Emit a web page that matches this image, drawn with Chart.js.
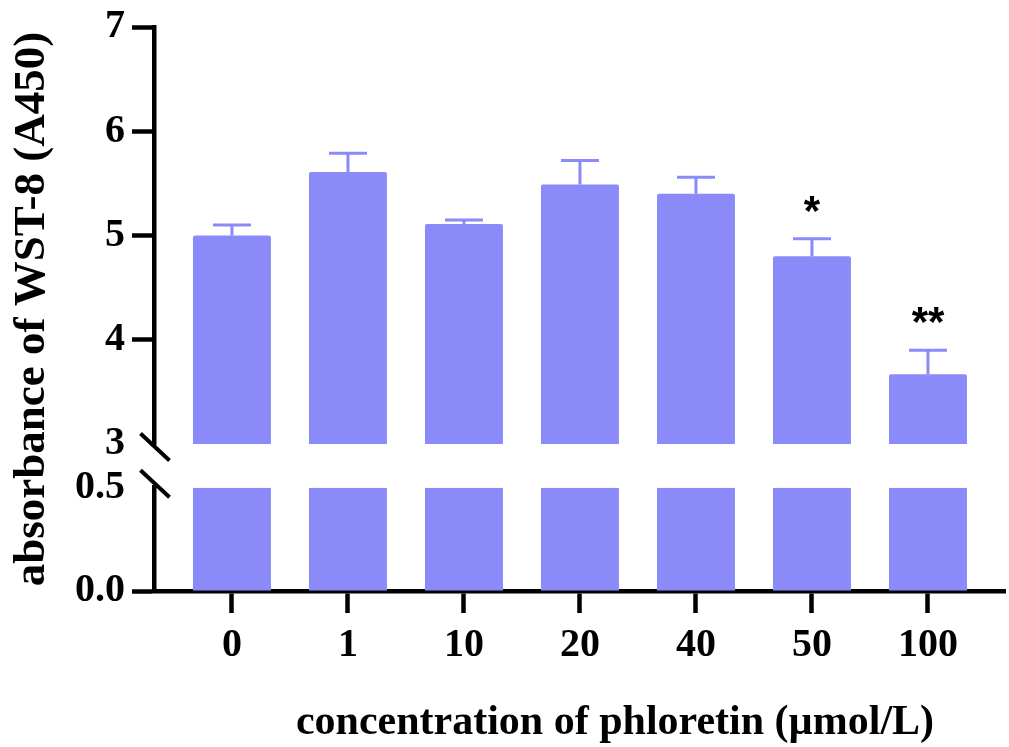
<!DOCTYPE html>
<html><head><meta charset="utf-8">
<script src="https://cdn.jsdelivr.net/npm/chart.js@4.4.1/dist/chart.umd.min.js"></script>
<style>html,body{margin:0;padding:0;background:#fff}#wrap{width:1009px;height:747px}</style>
</head><body><div id="wrap"><canvas id="c" width="1009" height="747"></canvas></div>
<script>
// ---- data ----
const categories = ['0', '1', '10', '20', '40', '50', '100'];
const values = [5.00, 5.61, 5.11, 5.49, 5.40, 4.80, 3.67];
const errors = [0.10, 0.18, 0.04, 0.23, 0.16, 0.17, 0.23];
const significance = ['', '', '', '', '', '*', '**'];
const upperTicks = [3, 4, 5, 6, 7];
const lowerTicks = [0, 0.5];
const xTitle = 'concentration of phloretin (\u00b5mol/L)';
const yTitle = 'absorbance of WST-8 (A450)';

// ---- style ----
const barColor = '#8a8af8';
const black = '#000';
const serif = "'Liberation Serif','Times New Roman',serif";
const axisW = 4.5;
const upperMin = upperTicks[0], upperMax = upperTicks[upperTicks.length - 1];
const lowerMin = lowerTicks[0], lowerMax = lowerTicks[lowerTicks.length - 1];

const tickFont = {family: serif, size: 40, weight: 'bold', lineHeight: 1};

function yAxisBase(extra) {
  return Object.assign({
    position: 'left',
    stack: 'y',
    border: {display: true, color: black, width: axisW},
    afterFit: s => { s.width = 154; }
  }, extra);
}

const annotations = {
  id: 'annotations',
  afterDatasetsDraw(chart) {
    const ctx = chart.ctx;
    const xs = chart.scales.x, ys = chart.scales.yTop;
    ctx.save();
    ctx.strokeStyle = barColor;
    ctx.lineWidth = 3;
    values.forEach((v, i) => {
      const x = xs.getPixelForValue(i);
      const yb = ys.getPixelForValue(v);
      const yc = ys.getPixelForValue(v + errors[i]);
      ctx.beginPath();
      ctx.moveTo(x, yb); ctx.lineTo(x, yc);
      ctx.moveTo(x - 19, yc); ctx.lineTo(x + 19, yc);
      ctx.stroke();
      if (significance[i]) {
        ctx.fillStyle = black;
        ctx.font = "bold 42px 'Liberation Sans', Arial, sans-serif";
        ctx.textAlign = 'center';
        ctx.textBaseline = 'alphabetic';
        ctx.fillText(significance[i], x, yc - 38 + 24);
      }
    });
    ctx.restore();
  },
  afterDraw(chart) {
    const ctx = chart.ctx;
    const yT = chart.scales.yTop, yB = chart.scales.yBot;
    const ax = chart.chartArea.left;
    ctx.save();
    // axis break marks
    ctx.strokeStyle = black;
    ctx.lineWidth = 4;
    [[ax + 1, yT.bottom + 3], [ax + 1, yB.top - 4]].forEach(([cx, cy]) => {
      ctx.beginPath();
      ctx.moveTo(cx - 14.5, cy - 13.5);
      ctx.lineTo(cx + 14.5, cy + 13.5);
      ctx.stroke();
    });
    // axis titles
    ctx.fillStyle = black;
    ctx.textAlign = 'center';
    ctx.textBaseline = 'middle';
    ctx.font = 'bold 42px ' + serif;
    ctx.fillText(xTitle, 615, 723);
    ctx.translate(32, (chart.chartArea.top + chart.chartArea.bottom) / 2);
    ctx.rotate(-Math.PI / 2);
    ctx.font = 'bold 45px ' + serif;
    ctx.fillText(yTitle, 0, 0);
    ctx.restore();
  }
};

new Chart(document.getElementById('c'), {
  type: 'bar',
  data: {
    datasets: [
      {
        yAxisID: 'yTop',
        data: values.map((v, i) => ({x: i, y: v})),
        backgroundColor: barColor,
        grouped: false,
        barPercentage: 0.672,
        categoryPercentage: 1,
        borderRadius: 2,
        borderSkipped: 'bottom'
      },
      {
        yAxisID: 'yBot',
        data: values.map((v, i) => ({x: i, y: Math.min(v, lowerMax)})),
        backgroundColor: barColor,
        grouped: false,
        barPercentage: 0.672,
        categoryPercentage: 1,
        borderRadius: 0
      }
    ]
  },
  options: {
    responsive: false,
    animation: false,
    layout: {padding: {top: 23, right: 4, bottom: 0, left: 0}},
    plugins: {legend: {display: false}, tooltip: {enabled: false}},
    scales: {
      x: {
        type: 'linear',
        position: 'bottom',
        offset: false,
        min: -0.672,
        max: 6.664,
        border: {display: true, color: black, width: axisW},
        grid: {display: true, offset: false, drawOnChartArea: false, tickLength: 22, tickWidth: axisW, color: black},
        afterBuildTicks: s => { s.ticks = categories.map((c, i) => ({value: i})); },
        ticks: {font: tickFont, color: black, padding: 13, maxRotation: 0, autoSkip: false,
                callback: v => categories[v]},
        afterFit: s => { s.height = 156; }
      },
      yTop: yAxisBase({
        weight: 3,
        min: upperMin, max: upperMax, stackWeight: 420,
        afterBuildTicks: s => { s.ticks = upperTicks.map(v => ({value: v})); },
        grid: {display: true, drawOnChartArea: false, tickLength: 22, tickWidth: axisW, color: black,
               tickColor: c => (c.tick && c.tick.value === upperMin) ? 'rgba(0,0,0,0)' : black},
        ticks: {font: tickFont, color: black, padding: 7, callback: v => String(v)}
      }),
      yGap: {
        weight: 2,
        position: 'left', stack: 'y', stackWeight: 44, min: 0, max: 1,
        border: {display: false}, grid: {display: false}, ticks: {display: false},
        afterFit: s => { s.width = 154; }
      },
      yBot: yAxisBase({
        weight: 1,
        min: lowerMin, max: lowerMax, stackWeight: 104,
        afterBuildTicks: s => { s.ticks = lowerTicks.map(v => ({value: v})); },
        grid: {display: true, drawOnChartArea: false, tickLength: 22, tickWidth: axisW, color: black,
               tickColor: c => (c.tick && c.tick.value === lowerMax) ? 'rgba(0,0,0,0)' : black},
        ticks: {font: tickFont, color: black, padding: 7, callback: v => Number(v).toFixed(1)}
      })
    }
  },
  plugins: [annotations]
});
</script>
</body></html>
